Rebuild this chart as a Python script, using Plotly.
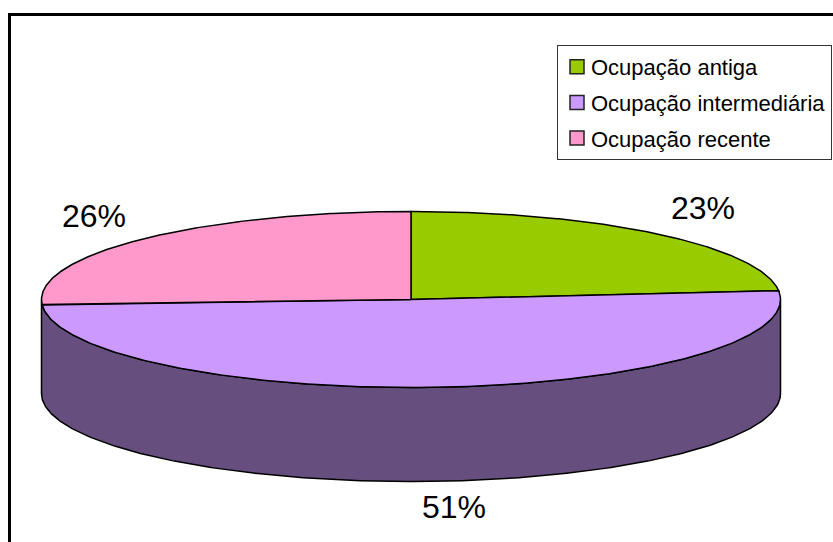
import numpy as np
import plotly.graph_objects as go

categories = ["Ocupação antiga", "Ocupação intermediária", "Ocupação recente"]
shares = [23.4, 50.6, 26.0]
colors = ["#99CC00", "#CC99FF", "#FF99CC"]
wall_color = "#664E7F"

# pie geometry, in the pixel-like units of the axes
cx, cy = 411, 299.5
rx, ry = 369.5, 88
depth = 94


def ellipse_points(t_from, t_to, drop=0):
    t = np.radians(np.linspace(t_from, t_to, 240))
    return cx + rx * np.cos(t), cy - ry * np.sin(t) + drop


fig = go.Figure()

# side wall, only the front half of the ellipse can be seen
top_x, top_y = ellipse_points(0, -180)
low_x, low_y = ellipse_points(-180, 0, depth)
fig.add_trace(go.Scatter(
    x=np.concatenate([top_x, low_x, top_x[:1]]),
    y=np.concatenate([top_y, low_y, top_y[:1]]),
    mode="lines",
    fill="toself",
    fillcolor=wall_color,
    line=dict(color="black", width=1.5),
    showlegend=False,
    hoverinfo="skip"
))

# top face, slices run clockwise from 12 o'clock
start = 90
for name, share, color in zip(categories, shares, colors):
    end = start - share * 3.6
    arc_x, arc_y = ellipse_points(start, end)
    fig.add_trace(go.Scatter(
        x=np.concatenate([[cx], arc_x, [cx]]),
        y=np.concatenate([[cy], arc_y, [cy]]),
        mode="lines",
        fill="toself",
        fillcolor=color,
        line=dict(color="black", width=1.5),
        showlegend=False,
        name=name
    ))
    start = end

# legend entries
for name, color in zip(categories, colors):
    fig.add_trace(go.Scatter(
        x=[None],
        y=[None],
        mode="markers",
        name=name,
        legendgroup=name,
        marker=dict(symbol="square", size=14, color=color, line=dict(color="#222222", width=1.5))
    ))

# percentage labels
label_x = [702.5, 453.5, 93.5]
label_y = [208, 507, 216]
for x, y, share in zip(label_x, label_y, shares):
    fig.add_annotation(
        x=x,
        y=y,
        text=f"{round(share)}%",
        showarrow=False,
        font=dict(size=32, color="black")
    )

# outer frame, only left and top sides are inside the picture
fig.add_shape(type="line", xref="paper", yref="paper", x0=9.5 / 833, x1=9.5 / 833, y0=0, y1=1 - 14 / 542,
              line=dict(color="black", width=3))
fig.add_shape(type="line", xref="paper", yref="paper", x0=8 / 833, x1=1, y0=1 - 14.5 / 542, y1=1 - 14.5 / 542,
              line=dict(color="black", width=3))

fig.update_xaxes(range=[0, 833], visible=False)
fig.update_yaxes(range=[542, 0], visible=False)
fig.update_layout(
    width=833,
    height=542,
    margin=dict(l=0, r=0, t=0, b=0),
    paper_bgcolor="white",
    plot_bgcolor="white",
    font=dict(family="Liberation Sans", color="black"),
    legend=dict(
        x=557 / 833,
        y=1 - 45 / 542,
        xanchor="left",
        yanchor="top",
        bgcolor="white",
        bordercolor="#333333",
        borderwidth=1,
        font=dict(size=22),
        tracegroupgap=4,
        indentation=-7,
        entrywidth=260,
        entrywidthmode="pixels"
    )
)

# page margin off, and legend keys nudged closer to their text
post = """
document.body.style.margin = '0';
var gd = document.getElementById('{plot_id}');
function nudge() {
    document.querySelectorAll('.legendsymbols').forEach(function (g) {
        g.setAttribute('transform', 'translate(6,0)');
    });
}
gd.on('plotly_afterplot', nudge);
nudge();
"""
fig.write_html("out.html", post_script=post, config=dict(displayModeBar=False))
